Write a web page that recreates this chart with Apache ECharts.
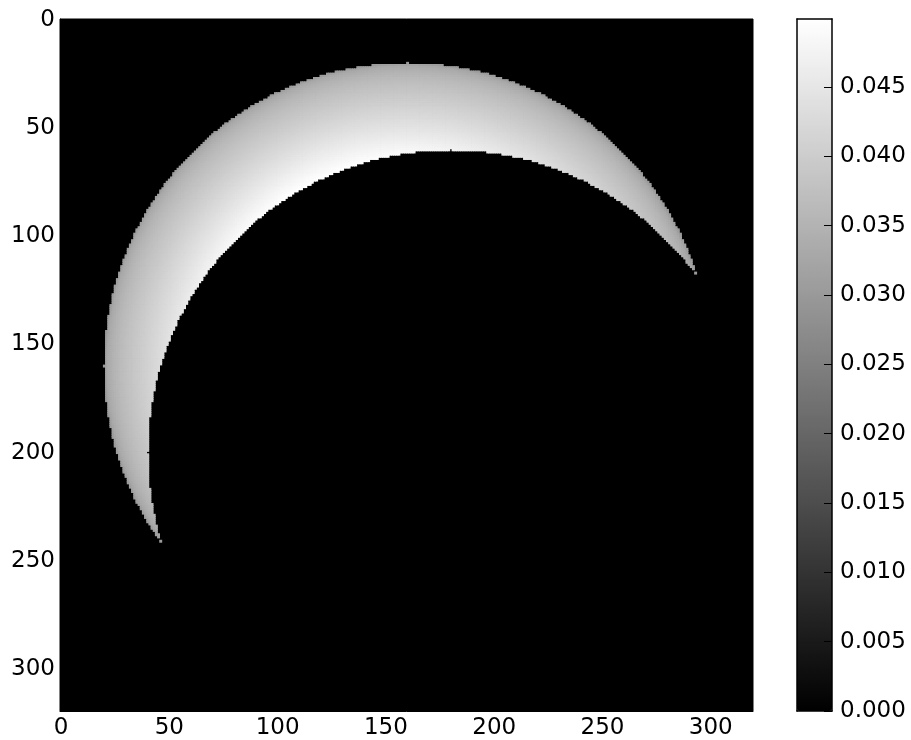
<!DOCTYPE html>
<html>
<head>
<meta charset="utf-8">
<script src="https://cdn.jsdelivr.net/npm/echarts@6/dist/echarts.min.js"></script>
<style>
  html, body { margin: 0; padding: 0; background: #fff; }
  #chart { width: 911px; height: 740px; }
</style>
</head>
<body>
<div id="chart"></div>
<script>
// image is 320 x 320 pixels
const imageSize = 320;
// bright disc: centre x, centre y, radius (in pixels)
const disc = [160, 160, 140];
// dark disc in front of it: centre x, centre y, radius
const occulter = [180, 200, 140];
// brightness across the bright disc, by distance from its centre / radius
const profileRadius = [0.68, 0.72, 0.76, 0.80, 0.84, 0.88, 0.92, 0.95, 0.97, 0.99, 1.00];
const profileValue = [0.0499, 0.0478, 0.0457, 0.0437, 0.0418, 0.0399, 0.0380, 0.0364, 0.0350, 0.0330, 0.0300];
// tick labels
const axisTicks = [0, 50, 100, 150, 200, 250, 300];
const colorbarTicks = [0, 0.005, 0.01, 0.015, 0.02, 0.025, 0.03, 0.035, 0.04, 0.045];
const colorMax = 0.0499;

const font = 'DejaVu Sans';

function brightness(r) {
  if (r <= profileRadius[0]) return profileValue[0];
  for (let i = 1; i < profileRadius.length; i++) {
    if (r <= profileRadius[i]) {
      const t = (r - profileRadius[i - 1]) / (profileRadius[i] - profileRadius[i - 1]);
      return profileValue[i - 1] + t * (profileValue[i] - profileValue[i - 1]);
    }
  }
  return profileValue[profileValue.length - 1];
}

const pixels = [];
for (let i = 0; i < imageSize; i++) pixels.push(String(i));

const cells = [];
for (let y = 0; y < imageSize; y++) {
  for (let x = 0; x < imageSize; x++) {
    const r = Math.hypot(x - disc[0], y - disc[1]) / disc[2];
    const hidden = Math.hypot(x - occulter[0], y - occulter[1]) <= occulter[2];
    if (r > 1 || hidden) continue;
    cells.push([x, y, brightness(r)]);
  }
}

// one filled square per image pixel, a little oversized so no seams show
function renderPixel(params, api) {
  const c = api.coord([api.value(0), api.value(1)]);
  const s = api.size([1, 1]);
  return {
    type: 'rect',
    shape: { x: c[0] - s[0] / 2 - 0.4, y: c[1] - s[1] / 2 - 0.4, width: s[0] + 0.8, height: s[1] + 0.8 },
    style: { fill: api.visual('color') }
  };
}

const chart = echarts.init(document.getElementById('chart'));

const option = {
  animation: false,
  grid: [
    { left: 60, top: 19, width: 693, height: 692, show: true, backgroundColor: '#000', borderColor: '#000', borderWidth: 1 },
    { left: 797, top: 19, width: 35, height: 692 }
  ],
  xAxis: [
    {
      type: 'category', gridIndex: 0, data: pixels,
      axisLine: { show: true, lineStyle: { color: '#000' } },
      axisTick: { show: false },
      splitLine: { show: false },
      axisLabel: {
        color: '#000', fontSize: 23, fontFamily: font, margin: 6,
        interval: (idx) => axisTicks.indexOf(idx) >= 0
      }
    },
    { type: 'value', gridIndex: 1, position: 'bottom', z: 10, axisLine: { show: true, onZero: false, lineStyle: { color: '#000', width: 1.5 } }, axisTick: { show: false }, axisLabel: { show: false }, splitLine: { show: false } },
    { type: 'value', gridIndex: 1, position: 'top', z: 10, axisLine: { show: true, onZero: false, lineStyle: { color: '#000', width: 1.5 } }, axisTick: { show: false }, axisLabel: { show: false }, splitLine: { show: false } }
  ],
  yAxis: [
    {
      type: 'category', gridIndex: 0, data: pixels, inverse: true,
      axisLine: { show: true, lineStyle: { color: '#000' } },
      axisTick: { show: false },
      splitLine: { show: false },
      axisLabel: {
        color: '#000', fontSize: 23, fontFamily: font, margin: 5,
        interval: (idx) => axisTicks.indexOf(idx) >= 0
      }
    },
    {
      type: 'value', gridIndex: 1, position: 'right', min: 0, max: colorMax,
      interval: colorbarTicks[1] - colorbarTicks[0], z: 10,
      axisLine: { show: true, onZero: false, lineStyle: { color: '#000', width: 1.5 } },
      axisTick: { show: true, inside: true, length: 8, lineStyle: { color: '#000' } },
      splitLine: { show: false },
      axisLabel: {
        color: '#000', fontSize: 23, fontFamily: font, margin: 8, showMaxLabel: false,
        formatter: (v) => v.toFixed(3)
      }
    },
    { type: 'value', gridIndex: 1, position: 'left', min: 0, max: colorMax, z: 10, axisLine: { show: true, onZero: false, lineStyle: { color: '#000', width: 1.5 } }, axisTick: { show: false }, axisLabel: { show: false }, splitLine: { show: false } }
  ],
  visualMap: {
    type: 'continuous', seriesIndex: 0, dimension: 2, min: 0, max: colorMax,
    calculable: false, hoverLink: false, show: true,
    left: 797, top: 19, padding: 0, itemWidth: 35, itemHeight: 692,
    inRange: { color: ['#000000', '#ffffff'] }
  },
  series: [
    {
      type: 'custom', xAxisIndex: 0, yAxisIndex: 0,
      renderItem: renderPixel,
      encode: { x: 0, y: 1 },
      data: cells, progressive: 0, silent: true
    }
  ]
};

chart.setOption(option);
</script>
</body>
</html>
